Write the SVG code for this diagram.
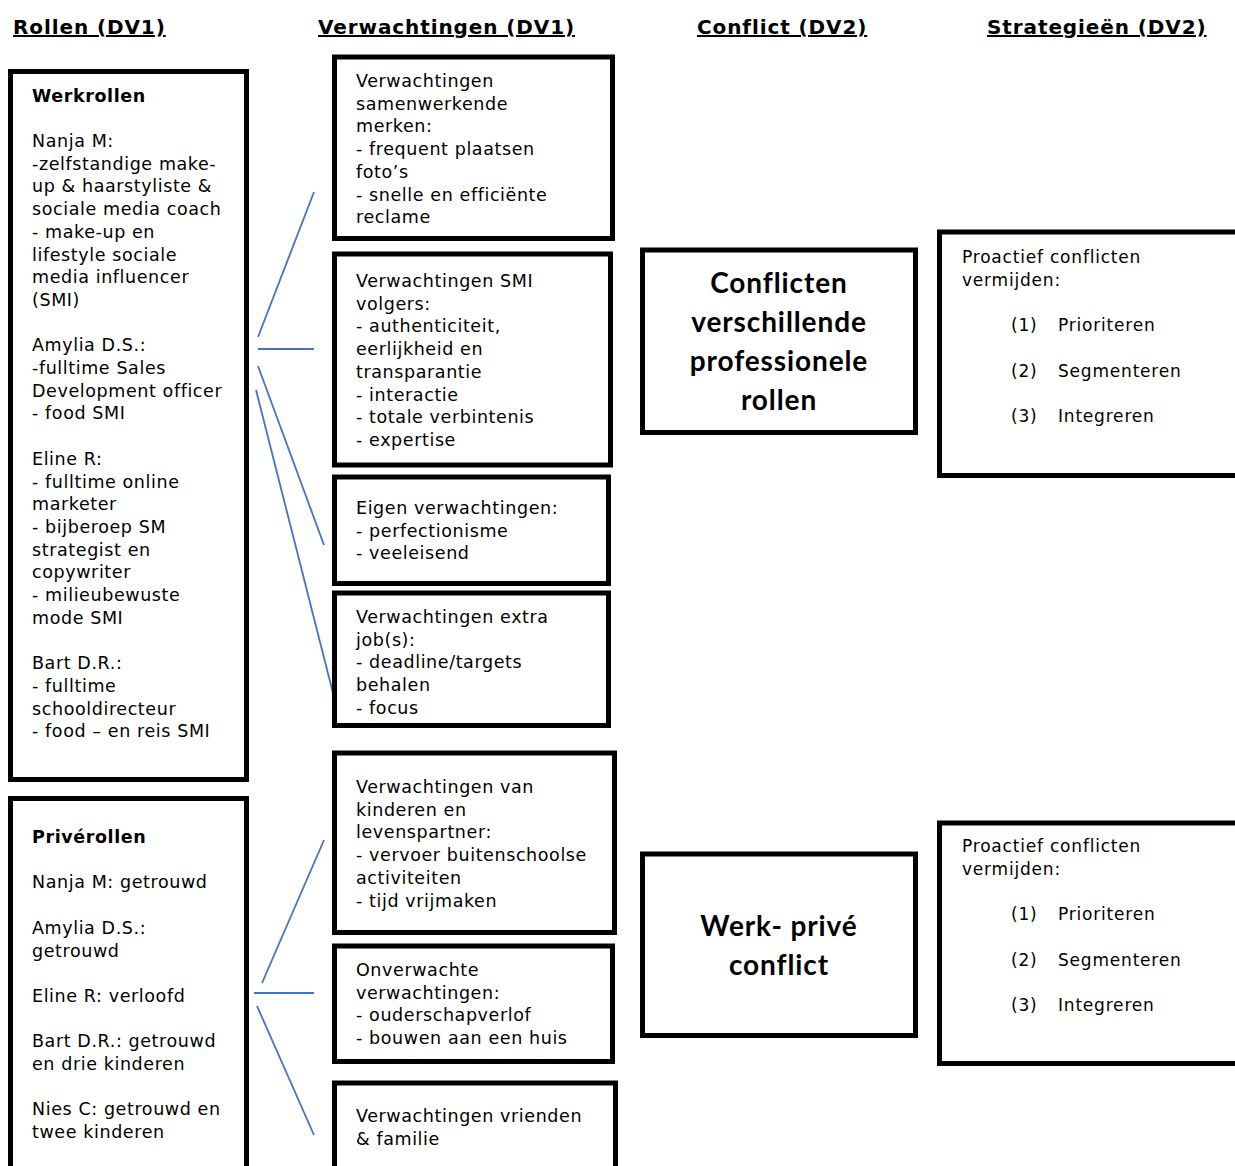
<svg xmlns="http://www.w3.org/2000/svg" width="1235" height="1166" viewBox="0 0 1235 1166">
<style>
.box{fill:#fff;stroke:#000;stroke-width:5}
.t{font-family:"DejaVu Sans","Liberation Sans",sans-serif;font-size:17.5px;letter-spacing:0.6px;fill:#000}
.b{font-weight:bold}
.h{font-family:"DejaVu Sans","Liberation Sans",sans-serif;font-size:20px;letter-spacing:0.9px;font-weight:bold;fill:#000;text-decoration:underline}
.c{font-family:Lato,"Open Sans",sans-serif;font-size:28px;letter-spacing:0.9px;font-weight:bold;fill:#000;text-anchor:middle}
.s{font-family:"DejaVu Sans","Liberation Sans",sans-serif;font-size:17px;letter-spacing:0.8px;fill:#000}
.ln{stroke:#4472C4;stroke-width:1.8;fill:none}
</style>
<rect width="1235" height="1166" fill="#fff"/>
<g id="headers">
<text class="h" x="13" y="34">Rollen (DV1)</text>
<text class="h" x="318" y="34">Verwachtingen (DV1)</text>
<text class="h" x="697" y="34">Conflict (DV2)</text>
<text class="h" x="987" y="34">Strategieën (DV2)</text>
</g>
<g id="connectors">
<line class="ln" x1="258" y1="337" x2="314" y2="192"/>
<line class="ln" x1="258" y1="349" x2="314" y2="349"/>
<line class="ln" x1="258" y1="366" x2="324" y2="545"/>
<line class="ln" x1="256" y1="390" x2="334" y2="697"/>
<line class="ln" x1="262" y1="983" x2="324" y2="840"/>
<line class="ln" x1="254" y1="993" x2="314" y2="993"/>
<line class="ln" x1="257" y1="1006" x2="314" y2="1135"/>
</g>
<g id="werkrollen">
<rect class="box" x="10.5" y="71.5" width="236" height="708"/>
<text class="t" x="32" y="101.6"><tspan class="b">Werkrollen</tspan><tspan x="32" dy="45.4">Nanja M:</tspan><tspan x="32" dy="22.7">-zelfstandige make-</tspan><tspan x="32" dy="22.7">up &amp; haarstyliste &amp;</tspan><tspan x="32" dy="22.7">sociale media coach</tspan><tspan x="32" dy="22.7">- make-up en</tspan><tspan x="32" dy="22.7">lifestyle sociale</tspan><tspan x="32" dy="22.7">media influencer</tspan><tspan x="32" dy="22.7">(SMI)</tspan><tspan x="32" dy="45.4">Amylia D.S.:</tspan><tspan x="32" dy="22.7">-fulltime Sales</tspan><tspan x="32" dy="22.7">Development officer</tspan><tspan x="32" dy="22.7">- food SMI</tspan><tspan x="32" dy="45.4">Eline R:</tspan><tspan x="32" dy="22.7">- fulltime online</tspan><tspan x="32" dy="22.7">marketer</tspan><tspan x="32" dy="22.7">- bijberoep SM</tspan><tspan x="32" dy="22.7">strategist en</tspan><tspan x="32" dy="22.7">copywriter</tspan><tspan x="32" dy="22.7">- milieubewuste</tspan><tspan x="32" dy="22.7">mode SMI</tspan><tspan x="32" dy="45.4">Bart D.R.:</tspan><tspan x="32" dy="22.7">- fulltime</tspan><tspan x="32" dy="22.7">schooldirecteur</tspan><tspan x="32" dy="22.7">- food – en reis SMI</tspan></text>
</g>
<g id="priverollen">
<rect class="box" x="10.5" y="798.5" width="236" height="400"/>
<text class="t" x="32" y="843"><tspan class="b">Privérollen</tspan><tspan x="32" dy="45.4">Nanja M: getrouwd</tspan><tspan x="32" dy="45.4">Amylia D.S.:</tspan><tspan x="32" dy="22.7">getrouwd</tspan><tspan x="32" dy="45.4">Eline R: verloofd</tspan><tspan x="32" dy="45.4">Bart D.R.: getrouwd</tspan><tspan x="32" dy="22.7">en drie kinderen</tspan><tspan x="32" dy="45.4">Nies C: getrouwd en</tspan><tspan x="32" dy="22.7">twee kinderen</tspan></text>
</g>
<g id="v1">
<rect class="box" x="334.5" y="57" width="278" height="181.5"/>
<text class="t" x="356" y="87"><tspan>Verwachtingen</tspan><tspan x="356" dy="22.7">samenwerkende</tspan><tspan x="356" dy="22.7">merken:</tspan><tspan x="356" dy="22.7">- frequent plaatsen</tspan><tspan x="356" dy="22.7">foto’s</tspan><tspan x="356" dy="22.7">- snelle en efficiënte</tspan><tspan x="356" dy="22.7">reclame</tspan></text>
</g>
<g id="v2">
<rect class="box" x="334.5" y="254" width="276" height="211"/>
<text class="t" x="356" y="287"><tspan>Verwachtingen SMI</tspan><tspan x="356" dy="22.7">volgers:</tspan><tspan x="356" dy="22.7">- authenticiteit,</tspan><tspan x="356" dy="22.7">eerlijkheid en</tspan><tspan x="356" dy="22.7">transparantie</tspan><tspan x="356" dy="22.7">- interactie</tspan><tspan x="356" dy="22.7">- totale verbintenis</tspan><tspan x="356" dy="22.7">- expertise</tspan></text>
</g>
<g id="v3">
<rect class="box" x="334.5" y="477" width="274" height="106.5"/>
<text class="t" x="356" y="514"><tspan>Eigen verwachtingen:</tspan><tspan x="356" dy="22.7">- perfectionisme</tspan><tspan x="356" dy="22.7">- veeleisend</tspan></text>
</g>
<g id="v4">
<rect class="box" x="334.5" y="593" width="274" height="132.5"/>
<text class="t" x="356" y="623"><tspan>Verwachtingen extra</tspan><tspan x="356" dy="22.7">job(s):</tspan><tspan x="356" dy="22.7">- deadline/targets</tspan><tspan x="356" dy="22.7">behalen</tspan><tspan x="356" dy="22.7">- focus</tspan></text>
</g>
<g id="v5">
<rect class="box" x="334.5" y="753" width="280" height="179.5"/>
<text class="t" x="356" y="793"><tspan>Verwachtingen van</tspan><tspan x="356" dy="22.7">kinderen en</tspan><tspan x="356" dy="22.7">levenspartner:</tspan><tspan x="356" dy="22.7">- vervoer buitenschoolse</tspan><tspan x="356" dy="22.7">activiteiten</tspan><tspan x="356" dy="22.7">- tijd vrijmaken</tspan></text>
</g>
<g id="v6">
<rect class="box" x="334.5" y="946" width="278" height="115.5"/>
<text class="t" x="356" y="976"><tspan>Onverwachte</tspan><tspan x="356" dy="22.7">verwachtingen:</tspan><tspan x="356" dy="22.7">- ouderschapverlof</tspan><tspan x="356" dy="22.7">- bouwen aan een huis</tspan></text>
</g>
<g id="v7">
<rect class="box" x="334.5" y="1083" width="281" height="120"/>
<text class="t" x="356" y="1122"><tspan>Verwachtingen vrienden</tspan><tspan x="356" dy="22.7">&amp; familie</tspan></text>
</g>
<g id="conflict1">
<rect class="box" x="642.5" y="250" width="273" height="182.5"/>
<text class="c" x="779" y="293"><tspan>Conflicten</tspan><tspan x="779" dy="39">verschillende</tspan><tspan x="779" dy="39">professionele</tspan><tspan x="779" dy="39">rollen</tspan></text>
</g>
<g id="conflict2">
<rect class="box" x="642.5" y="854" width="273" height="181.5"/>
<text class="c" x="779" y="936"><tspan>Werk- privé</tspan><tspan x="779" dy="39">conflict</tspan></text>
</g>
<g id="strat1">
<rect class="box" x="939.5" y="232" width="300" height="243.5"/>
<text class="s" x="962" y="263"><tspan>Proactief conflicten</tspan><tspan x="962" dy="23">vermijden:</tspan></text>
<text class="s" x="1011" y="331">(1)<tspan x="1058">Prioriteren</tspan></text>
<text class="s" x="1011" y="377">(2)<tspan x="1058">Segmenteren</tspan></text>
<text class="s" x="1011" y="422">(3)<tspan x="1058">Integreren</tspan></text>
</g>
<g id="strat2">
<rect class="box" x="939.5" y="823" width="300" height="240.5"/>
<text class="s" x="962" y="852"><tspan>Proactief conflicten</tspan><tspan x="962" dy="23">vermijden:</tspan></text>
<text class="s" x="1011" y="920">(1)<tspan x="1058">Prioriteren</tspan></text>
<text class="s" x="1011" y="966">(2)<tspan x="1058">Segmenteren</tspan></text>
<text class="s" x="1011" y="1011">(3)<tspan x="1058">Integreren</tspan></text>
</g>
</svg>
